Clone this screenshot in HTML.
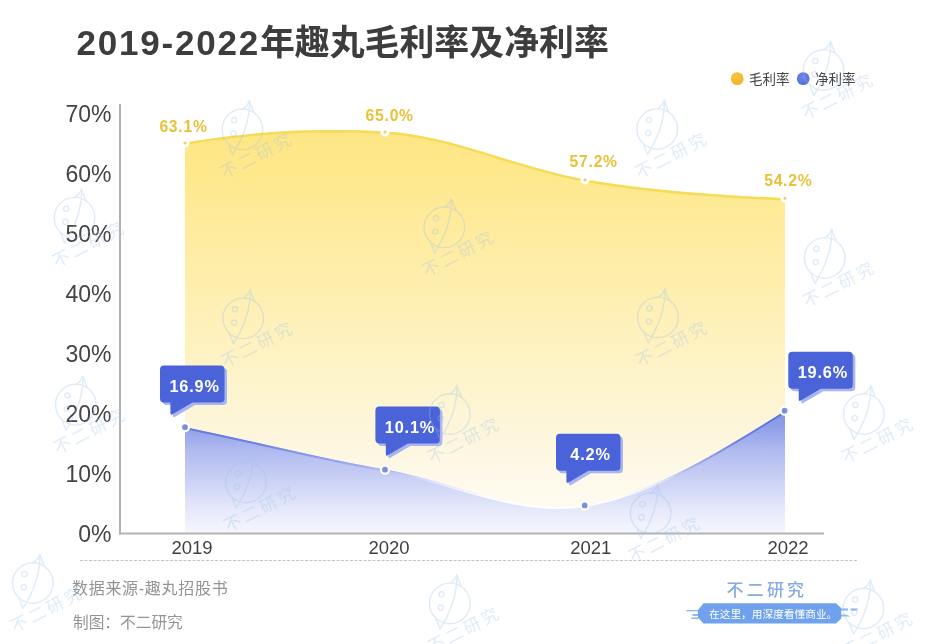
<!DOCTYPE html>
<html lang="zh-CN">
<head>
<meta charset="utf-8">
<title>2019-2022年趣丸毛利率及净利率</title>
<style>
html,body{margin:0;padding:0;background:#fff;}
body{width:940px;height:644px;overflow:hidden;position:relative;font-family:"Liberation Sans", "Noto Sans CJK SC", sans-serif;}
svg{position:absolute;left:0;top:0;display:block;}
text{font-family:"Liberation Sans", "Noto Sans CJK SC", sans-serif;}
.title{font-size:35px;font-weight:700;fill:#3d3d3d;}
.yl{font-size:23px;fill:#444;text-anchor:end;}
.xl{font-size:18.5px;fill:#3f3f3f;text-anchor:middle;}
.gl{font-size:15.7px;font-weight:700;fill:#e9c137;text-anchor:middle;letter-spacing:0.75px;}
.ct{font-size:16.3px;font-weight:700;fill:#fff;text-anchor:middle;letter-spacing:0.85px;}
.cb{fill:#4b63d9;}
.cs{fill:#a9b6ee;}
.lg{font-size:13.5px;fill:#444;}
.src{font-size:16px;fill:#939393;}
.wm{fill:none;stroke:#9cc3ea;stroke-width:1.4;opacity:.32;stroke-linecap:round;stroke-linejoin:round;}
.wm text{fill:#9cc3ea;stroke:none;font-size:17px;letter-spacing:3px;}
.logo{font-size:17px;fill:#88abe0;letter-spacing:3.2px;font-weight:500;}
.pill{font-size:10.7px;fill:#fff;}
</style>
</head>
<body>
<svg width="940" height="644" viewBox="0 0 940 644">
<defs>
<linearGradient id="gy" x1="0" y1="129" x2="0" y2="533" gradientUnits="userSpaceOnUse">
<stop offset="0" stop-color="#fde584"/><stop offset="0.089" stop-color="#fee88a"/><stop offset="0.287" stop-color="#feeca2"/><stop offset="0.535" stop-color="#fef2c0"/><stop offset="0.72" stop-color="#fdf5d8"/><stop offset="0.87" stop-color="#fef9ea"/><stop offset="1" stop-color="#fffdf6"/>
</linearGradient>
<linearGradient id="gb" x1="0" y1="411" x2="0" y2="533" gradientUnits="userSpaceOnUse">
<stop offset="0" stop-color="#8093e7"/><stop offset="0.13" stop-color="#909fe9"/><stop offset="0.32" stop-color="#b0baf0"/><stop offset="0.48" stop-color="#c1c9f3"/><stop offset="0.65" stop-color="#d4d9f6"/><stop offset="0.81" stop-color="#e6e9fa"/><stop offset="1" stop-color="#f5f6fd"/>
</linearGradient>
<linearGradient id="gbl" x1="0" y1="411" x2="0" y2="520" gradientUnits="userSpaceOnUse">
<stop offset="0" stop-color="#5a72dd"/><stop offset="0.27" stop-color="#6a81e2"/><stop offset="0.5" stop-color="#9fadec"/><stop offset="0.64" stop-color="#dfe4f9"/><stop offset="0.78" stop-color="#ffffff"/>
</linearGradient>
<radialGradient id="ly" cx="0.4" cy="0.35" r="0.7"><stop offset="0" stop-color="#fbc53a"/><stop offset="1" stop-color="#efb22f"/></radialGradient>
<radialGradient id="lb" cx="0.4" cy="0.35" r="0.7"><stop offset="0" stop-color="#6a83e8"/><stop offset="1" stop-color="#566fd6"/></radialGradient>
</defs>
<rect width="940" height="644" fill="#fff"/>

<text class="title" x="76.5" y="55"><tspan letter-spacing="1.78">2019-2022</tspan><tspan style="font-size:34.9px">年趣丸毛利率及净利率</tspan></text>

<!-- legend -->
<circle cx="737.2" cy="78.7" r="6.4" fill="url(#ly)"/>
<text class="lg" x="749" y="83.6">毛利率</text>
<circle cx="803.2" cy="78.7" r="6.4" fill="url(#lb)"/>
<text class="lg" x="815" y="83.6">净利率</text>

<!-- areas -->
<path d="M185.0,142.5 C251.7,131.1 318.3,127.9 385.0,131.5 C451.7,135.1 518.3,168.1 585.0,179.6 C651.7,191.1 718.3,195.2 785.0,198.2 L785,533 L185,533 Z" fill="url(#gy)"/>
<path d="M185.0,142.5 C251.7,131.1 318.3,127.9 385.0,131.5 C451.7,135.1 518.3,168.1 585.0,179.6 C651.7,191.1 718.3,195.2 785.0,198.2" fill="none" stroke="#f6dc55" stroke-width="2.4" transform="translate(0,1.2)"/>
<path d="M185.0,427.2 C251.7,440.5 318.3,458.3 385.0,469.6 C451.7,480.9 518.3,516.0 585.0,505.0 C651.7,494.0 718.3,453.0 785.0,411.0 L785,533 L185,533 Z" fill="url(#gb)"/>
<path d="M185.0,427.2 C251.7,440.5 318.3,458.3 385.0,469.6 C451.7,480.9 518.3,516.0 585.0,505.0 C651.7,494.0 718.3,453.0 785.0,411.0" fill="none" stroke="url(#gbl)" stroke-width="2" transform="translate(0,1)"/>

<!-- axes -->
<rect x="119" y="104" width="2" height="430.5" fill="#b3b3b3"/>
<rect x="119" y="532.5" width="705" height="2" fill="#b3b3b3"/>
<line x1="80" y1="560.5" x2="857" y2="560.5" stroke="#c4c4c4" stroke-width="1" stroke-dasharray="3 1.5"/>

<!-- y labels -->
<text class="yl" x="111.5" y="121.5">70%</text>
<text class="yl" x="111.5" y="181.5">60%</text>
<text class="yl" x="111.5" y="241.5">50%</text>
<text class="yl" x="111.5" y="301.5">40%</text>
<text class="yl" x="111.5" y="361.5">30%</text>
<text class="yl" x="111.5" y="421.5">20%</text>
<text class="yl" x="111.5" y="481.5">10%</text>
<text class="yl" x="111.5" y="541.5">0%</text>

<!-- x labels -->
<text class="xl" x="192" y="553.7">2019</text>
<text class="xl" x="389" y="553.7">2020</text>
<text class="xl" x="590.8" y="553.7">2021</text>
<text class="xl" x="788" y="553.7">2022</text>

<!-- gross markers + labels -->
<g fill="#e3d27c" stroke="#fff" stroke-width="3">
<circle cx="185" cy="143" r="3.1"/><circle cx="385" cy="132" r="3.1"/><circle cx="585" cy="179.8" r="3.1"/><circle cx="785" cy="198.3" r="3.1"/>
</g>
<text class="gl" x="183.5" y="132">63.1%</text>
<text class="gl" x="389.7" y="120.5">65.0%</text>
<text class="gl" x="593.7" y="167">57.2%</text>
<text class="gl" x="788.3" y="185.7">54.2%</text>

<!-- net markers -->
<g fill="#7c8fdc" stroke="#fff" stroke-width="2.3">
<circle cx="185" cy="427.2" r="4"/><circle cx="385" cy="469.7" r="4"/><circle cx="584.7" cy="505.4" r="4"/><circle cx="784.6" cy="410.7" r="4"/>
</g>

<!-- callouts -->
<g transform="translate(160,365.5)"><path class="cs" transform="translate(2.5,2.5)" d="M4,0 H60.5 a4,4 0 0 1 4,4 V33 a4,4 0 0 1 -4,4 H32.5 L12,49 a1.2,1.2 0 0 1 -1.6,-1 V37 H4 a4,4 0 0 1 -4,-4 V4 a4,4 0 0 1 4,-4 Z"/><path class="cb" d="M4,0 H60.5 a4,4 0 0 1 4,4 V33 a4,4 0 0 1 -4,4 H32.5 L12,49 a1.2,1.2 0 0 1 -1.6,-1 V37 H4 a4,4 0 0 1 -4,-4 V4 a4,4 0 0 1 4,-4 Z"/><text class="ct" x="34.6" y="26.3">16.9%</text></g>
<g transform="translate(375.4,406.5)"><path class="cs" transform="translate(2.5,2.5)" d="M4,0 H60.5 a4,4 0 0 1 4,4 V33 a4,4 0 0 1 -4,4 H32.5 L12,49 a1.2,1.2 0 0 1 -1.6,-1 V37 H4 a4,4 0 0 1 -4,-4 V4 a4,4 0 0 1 4,-4 Z"/><path class="cb" d="M4,0 H60.5 a4,4 0 0 1 4,4 V33 a4,4 0 0 1 -4,4 H32.5 L12,49 a1.2,1.2 0 0 1 -1.6,-1 V37 H4 a4,4 0 0 1 -4,-4 V4 a4,4 0 0 1 4,-4 Z"/><text class="ct" x="34.6" y="26.3">10.1%</text></g>
<g transform="translate(556,433.7)"><path class="cs" transform="translate(2.5,2.5)" d="M4,0 H60.5 a4,4 0 0 1 4,4 V33 a4,4 0 0 1 -4,4 H32.5 L12,49 a1.2,1.2 0 0 1 -1.6,-1 V37 H4 a4,4 0 0 1 -4,-4 V4 a4,4 0 0 1 4,-4 Z"/><path class="cb" d="M4,0 H60.5 a4,4 0 0 1 4,4 V33 a4,4 0 0 1 -4,4 H32.5 L12,49 a1.2,1.2 0 0 1 -1.6,-1 V37 H4 a4,4 0 0 1 -4,-4 V4 a4,4 0 0 1 4,-4 Z"/><text class="ct" x="34.6" y="26.3">4.2%</text></g>
<g transform="translate(788.3,351.8)"><path class="cs" transform="translate(2.5,2.5)" d="M4,0 H60.5 a4,4 0 0 1 4,4 V33 a4,4 0 0 1 -4,4 H32.5 L12,49 a1.2,1.2 0 0 1 -1.6,-1 V37 H4 a4,4 0 0 1 -4,-4 V4 a4,4 0 0 1 4,-4 Z"/><path class="cb" d="M4,0 H60.5 a4,4 0 0 1 4,4 V33 a4,4 0 0 1 -4,4 H32.5 L12,49 a1.2,1.2 0 0 1 -1.6,-1 V37 H4 a4,4 0 0 1 -4,-4 V4 a4,4 0 0 1 4,-4 Z"/><text class="ct" x="34.6" y="26.3">19.6%</text></g>

<!-- source -->
<text class="src" x="72" y="594.3" letter-spacing="0.7">数据来源-趣丸招股书</text>
<text class="src" x="73" y="627.6" style="font-size:15.7px">制图：不二研究</text>

<!-- logo -->
<text class="logo" x="726.5" y="596">不二研究</text>
<g fill="#6fa1ec">
<path d="M703.5,603.2 H836 L841.2,608 V618.4 L836,623.5 H703.5 L698,617.6 V610 Z"/>
<g opacity=".75"><rect x="686.5" y="610" width="11.5" height="1.4"/><rect x="692.5" y="614" width="6" height="2"/><rect x="691.5" y="617.4" width="7" height="1.6"/>
<rect x="841" y="608.4" width="7" height="2.2"/><rect x="850.6" y="608.4" width="6.8" height="2.2"/><path d="M841,614.4 H846 L850.5,616.6 H841 Z"/></g>
</g>
<text class="pill" x="709" y="617.5">在这里，用深度看懂商业。</text>
<!-- watermarks -->
<g class="wm">
<g transform="translate(242.4,129.3)"><circle r="20.3"/><path d="M0.5,-20.3 Q5,-23 7,-28.7 Q8.8,-23 11.5,-16.8"/><path d="M7,-28 C7.5,-8 0,10 -9.8,25.5 L-13.8,15"/><circle cx="-8.3" cy="-9" r="2.6"/><circle cx="-9" cy="4.2" r="2.6"/><text transform="translate(-18,50) rotate(-27.5)" x="0" y="0">不二研究</text></g><g transform="translate(657.3,129)"><circle r="20.3"/><path d="M0.5,-20.3 Q5,-23 7,-28.7 Q8.8,-23 11.5,-16.8"/><path d="M7,-28 C7.5,-8 0,10 -9.8,25.5 L-13.8,15"/><circle cx="-8.3" cy="-9" r="2.6"/><circle cx="-9" cy="4.2" r="2.6"/><text transform="translate(-18,50) rotate(-27.5)" x="0" y="0">不二研究</text></g><g transform="translate(444.4,227.3)"><circle r="20.3"/><path d="M0.5,-20.3 Q5,-23 7,-28.7 Q8.8,-23 11.5,-16.8"/><path d="M7,-28 C7.5,-8 0,10 -9.8,25.5 L-13.8,15"/><circle cx="-8.3" cy="-9" r="2.6"/><circle cx="-9" cy="4.2" r="2.6"/><text transform="translate(-18,50) rotate(-27.5)" x="0" y="0">不二研究</text></g><g transform="translate(74.5,217.7)"><circle r="20.3"/><path d="M0.5,-20.3 Q5,-23 7,-28.7 Q8.8,-23 11.5,-16.8"/><path d="M7,-28 C7.5,-8 0,10 -9.8,25.5 L-13.8,15"/><circle cx="-8.3" cy="-9" r="2.6"/><circle cx="-9" cy="4.2" r="2.6"/><text transform="translate(-18,50) rotate(-27.5)" x="0" y="0">不二研究</text></g><g transform="translate(863.8,414)"><circle r="20.3"/><path d="M0.5,-20.3 Q5,-23 7,-28.7 Q8.8,-23 11.5,-16.8"/><path d="M7,-28 C7.5,-8 0,10 -9.8,25.5 L-13.8,15"/><circle cx="-8.3" cy="-9" r="2.6"/><circle cx="-9" cy="4.2" r="2.6"/><text transform="translate(-18,50) rotate(-27.5)" x="0" y="0">不二研究</text></g><g transform="translate(243.2,318.3)"><circle r="20.3"/><path d="M0.5,-20.3 Q5,-23 7,-28.7 Q8.8,-23 11.5,-16.8"/><path d="M7,-28 C7.5,-8 0,10 -9.8,25.5 L-13.8,15"/><circle cx="-8.3" cy="-9" r="2.6"/><circle cx="-9" cy="4.2" r="2.6"/><text transform="translate(-18,50) rotate(-27.5)" x="0" y="0">不二研究</text></g><g transform="translate(449.8,414)"><circle r="20.3"/><path d="M0.5,-20.3 Q5,-23 7,-28.7 Q8.8,-23 11.5,-16.8"/><path d="M7,-28 C7.5,-8 0,10 -9.8,25.5 L-13.8,15"/><circle cx="-8.3" cy="-9" r="2.6"/><circle cx="-9" cy="4.2" r="2.6"/><text transform="translate(-18,50) rotate(-27.5)" x="0" y="0">不二研究</text></g><g transform="translate(75.8,404.6)"><circle r="20.3"/><path d="M0.5,-20.3 Q5,-23 7,-28.7 Q8.8,-23 11.5,-16.8"/><path d="M7,-28 C7.5,-8 0,10 -9.8,25.5 L-13.8,15"/><circle cx="-8.3" cy="-9" r="2.6"/><circle cx="-9" cy="4.2" r="2.6"/><text transform="translate(-18,50) rotate(-27.5)" x="0" y="0">不二研究</text></g><g transform="translate(246,482.5)"><circle r="20.3"/><path d="M0.5,-20.3 Q5,-23 7,-28.7 Q8.8,-23 11.5,-16.8"/><path d="M7,-28 C7.5,-8 0,10 -9.8,25.5 L-13.8,15"/><circle cx="-8.3" cy="-9" r="2.6"/><circle cx="-9" cy="4.2" r="2.6"/><text transform="translate(-18,50) rotate(-27.5)" x="0" y="0">不二研究</text></g><g transform="translate(32.8,583)"><circle r="20.3"/><path d="M0.5,-20.3 Q5,-23 7,-28.7 Q8.8,-23 11.5,-16.8"/><path d="M7,-28 C7.5,-8 0,10 -9.8,25.5 L-13.8,15"/><circle cx="-8.3" cy="-9" r="2.6"/><circle cx="-9" cy="4.2" r="2.6"/><text transform="translate(-18,50) rotate(-27.5)" x="0" y="0">不二研究</text></g><g transform="translate(650.6,513.2)"><circle r="20.3"/><path d="M0.5,-20.3 Q5,-23 7,-28.7 Q8.8,-23 11.5,-16.8"/><path d="M7,-28 C7.5,-8 0,10 -9.8,25.5 L-13.8,15"/><circle cx="-8.3" cy="-9" r="2.6"/><circle cx="-9" cy="4.2" r="2.6"/><text transform="translate(-18,50) rotate(-27.5)" x="0" y="0">不二研究</text></g><g transform="translate(449.8,603.4)"><circle r="20.3"/><path d="M0.5,-20.3 Q5,-23 7,-28.7 Q8.8,-23 11.5,-16.8"/><path d="M7,-28 C7.5,-8 0,10 -9.8,25.5 L-13.8,15"/><circle cx="-8.3" cy="-9" r="2.6"/><circle cx="-9" cy="4.2" r="2.6"/><text transform="translate(-18,50) rotate(-27.5)" x="0" y="0">不二研究</text></g><g transform="translate(823.6,70)"><circle r="20.3"/><path d="M0.5,-20.3 Q5,-23 7,-28.7 Q8.8,-23 11.5,-16.8"/><path d="M7,-28 C7.5,-8 0,10 -9.8,25.5 L-13.8,15"/><circle cx="-8.3" cy="-9" r="2.6"/><circle cx="-9" cy="4.2" r="2.6"/><text transform="translate(-18,50) rotate(-27.5)" x="0" y="0">不二研究</text></g><g transform="translate(824.7,257.9)"><circle r="20.3"/><path d="M0.5,-20.3 Q5,-23 7,-28.7 Q8.8,-23 11.5,-16.8"/><path d="M7,-28 C7.5,-8 0,10 -9.8,25.5 L-13.8,15"/><circle cx="-8.3" cy="-9" r="2.6"/><circle cx="-9" cy="4.2" r="2.6"/><text transform="translate(-18,50) rotate(-27.5)" x="0" y="0">不二研究</text></g><g transform="translate(657.9,317.4)"><circle r="20.3"/><path d="M0.5,-20.3 Q5,-23 7,-28.7 Q8.8,-23 11.5,-16.8"/><path d="M7,-28 C7.5,-8 0,10 -9.8,25.5 L-13.8,15"/><circle cx="-8.3" cy="-9" r="2.6"/><circle cx="-9" cy="4.2" r="2.6"/><text transform="translate(-18,50) rotate(-27.5)" x="0" y="0">不二研究</text></g><g transform="translate(863.4,608.5)"><circle r="20.3"/><path d="M0.5,-20.3 Q5,-23 7,-28.7 Q8.8,-23 11.5,-16.8"/><path d="M7,-28 C7.5,-8 0,10 -9.8,25.5 L-13.8,15"/><circle cx="-8.3" cy="-9" r="2.6"/><circle cx="-9" cy="4.2" r="2.6"/><text transform="translate(-18,50) rotate(-27.5)" x="0" y="0">不二研究</text></g>
</g>

</svg>
</body>
</html>
